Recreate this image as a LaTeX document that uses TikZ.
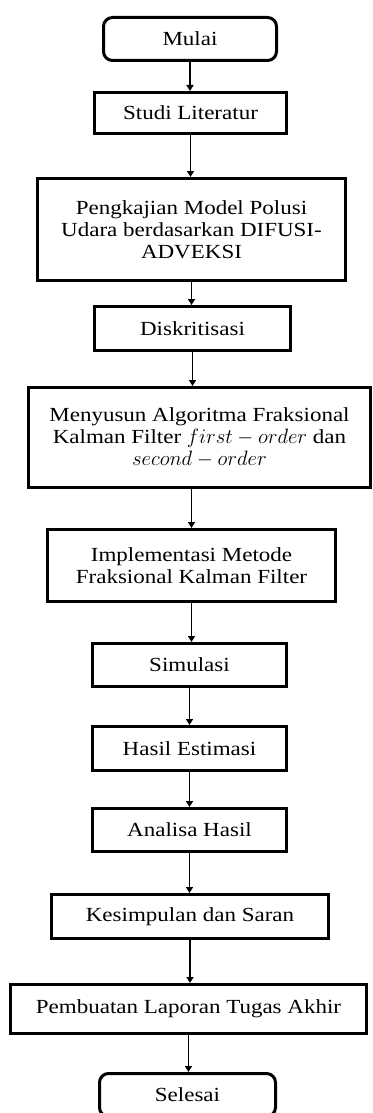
\documentclass[tikz,border=0pt]{standalone}
\usepackage{fontspec}
\setmainfont[FakeStretch=1.15]{Liberation Serif}
\usetikzlibrary{arrows.meta}

\tikzset{
  procbox/.style={draw, line width=3pt, align=center, inner sep=0pt,
    font=\fontsize{20}{22}\selectfont},
  termbox/.style={procbox, rounded corners=9pt},
  flow/.style={-{Triangle[width=7pt,length=6pt]}, line width=1.5pt}
}

\begin{document}
\begin{tikzpicture}[x=1pt,y=-1pt]
\useasboundingbox (0,0) rectangle (372,1113);
\clip (0,0) rectangle (372,1113);
% steps
\node[termbox, minimum width=173pt, minimum height=43pt] (mulai) at (190,39) {Mulai};
\node[procbox, minimum width=192pt, minimum height=41pt] (studi) at (190.5,113) {Studi Literatur};
\node[procbox, minimum width=308pt, minimum height=102pt] (kajian) at (191.5,229.5) {Pengkajian Model Polusi\\Udara berdasarkan DIFUSI-\\ADVEKSI};
\node[procbox, minimum width=196pt, minimum height=44pt] (diskrit) at (192.5,328.5) {Diskritisasi};
\node[procbox, minimum width=342pt, minimum height=100pt] (susun) at (199.5,437.5) {Menyusun Algoritma Fraksional\\Kalman Filter $first - order$ dan\\$second - order$};
\node[procbox, minimum width=288pt, minimum height=72pt] (implem) at (191.5,565.5) {Implementasi Metode\\Fraksional Kalman Filter};
\node[procbox, minimum width=194pt, minimum height=43pt] (simul) at (189.5,665) {Simulasi};
\node[procbox, minimum width=194pt, minimum height=44pt] (estim) at (189.5,748.5) {Hasil Estimasi};
\node[procbox, minimum width=194pt, minimum height=43pt] (analisa) at (189.5,830) {Analisa Hasil};
\node[procbox, minimum width=277pt, minimum height=44pt] (simpul) at (190,916.5) {Kesimpulan dan Saran};
\node[procbox, minimum width=356pt, minimum height=49pt] (laporan) at (188.5,1009) {Pembuatan Laporan Tugas Akhir};
\node[termbox, minimum width=176pt, minimum height=43pt] (selesai) at (187.5,1095) {Selesai};
% arrows
\draw[flow] (mulai.south) -- (mulai.south |- studi.north);
\draw[flow] (studi.south) -- (studi.south |- kajian.north);
\draw[flow] (kajian.south) -- (kajian.south |- diskrit.north);
\draw[flow] (diskrit.south) -- (diskrit.south |- susun.north);
\draw[flow] (implem.north |- susun.south) -- (implem.north);
\draw[flow] (implem.south) -- (implem.south |- simul.north);
\draw[flow] (simul.south) -- (simul.south |- estim.north);
\draw[flow] (estim.south) -- (estim.south |- analisa.north);
\draw[flow] (analisa.south) -- (analisa.south |- simpul.north);
\draw[flow] (simpul.south) -- (simpul.south |- laporan.north);
\draw[flow] (laporan.south) -- (laporan.south |- selesai.north);
\end{tikzpicture}
\end{document}
